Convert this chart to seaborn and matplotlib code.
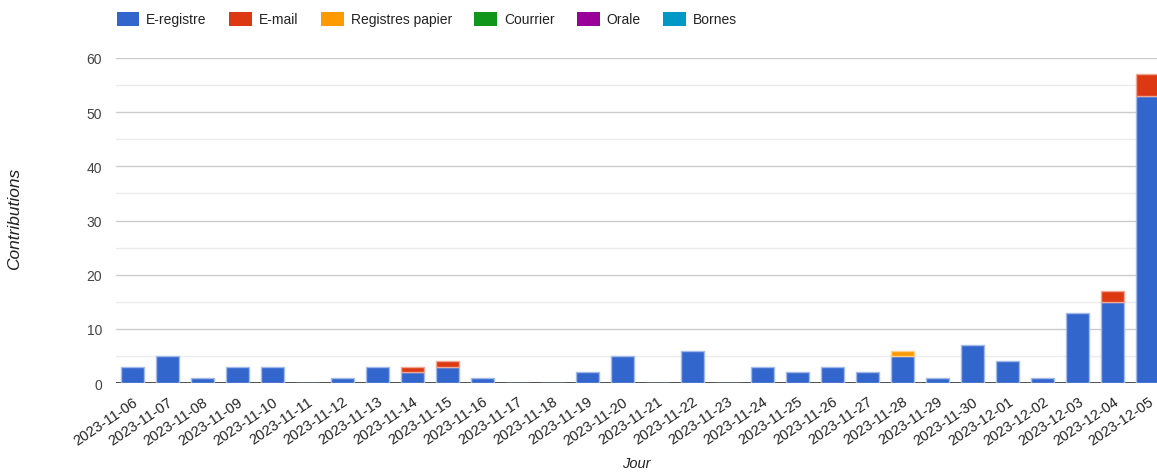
import numpy as np
import pandas as pd
import matplotlib
matplotlib.use("Agg")
import matplotlib.pyplot as plt
from matplotlib.patches import Patch
from matplotlib.ticker import MultipleLocator
from matplotlib.colors import to_rgb
import seaborn as sns

# Daily contributions by channel
days = ["2023-11-06", "2023-11-07", "2023-11-08", "2023-11-09", "2023-11-10",
        "2023-11-11", "2023-11-12", "2023-11-13", "2023-11-14", "2023-11-15",
        "2023-11-16", "2023-11-17", "2023-11-18", "2023-11-19", "2023-11-20",
        "2023-11-21", "2023-11-22", "2023-11-23", "2023-11-24", "2023-11-25",
        "2023-11-26", "2023-11-27", "2023-11-28", "2023-11-29", "2023-11-30",
        "2023-12-01", "2023-12-02", "2023-12-03", "2023-12-04", "2023-12-05"]
e_registre = [3, 5, 1, 3, 3, 0, 1, 3, 2, 3, 1, 0, 0, 2, 5,
              0, 6, 0, 3, 2, 3, 2, 5, 1, 7, 4, 1, 13, 15, 53]
e_mail = [0, 0, 0, 0, 0, 0, 0, 0, 1, 1, 0, 0, 0, 0, 0,
          0, 0, 0, 0, 0, 0, 0, 0, 0, 0, 0, 0, 0, 2, 4]
registres_papier = [0, 0, 0, 0, 0, 0, 0, 0, 0, 0, 0, 0, 0, 0, 0,
                    0, 0, 0, 0, 0, 0, 0, 1, 0, 0, 0, 0, 0, 0, 0]
courrier = [0] * 30
orale = [0] * 30
bornes = [0] * 30

series_names = ["E-registre", "E-mail", "Registres papier", "Courrier", "Orale", "Bornes"]
series_values = [e_registre, e_mail, registres_papier, courrier, orale, bornes]
colors = ["#3366cc", "#dc3912", "#ff9900", "#109618", "#990099", "#0099c6"]


def tint(c, amount=0.55):
    r, g, b = to_rgb(c)
    return (r + (1 - r) * amount, g + (1 - g) * amount, b + (1 - b) * amount)


sns.set_style("white")
plt.rcParams["font.family"] = ["Liberation Sans", "DejaVu Sans"]

fig = plt.figure(figsize=(11.57, 4.77), dpi=100)
ax = fig.add_axes([116 / 1157, 1 - 384 / 477, 1 - 116 / 1157, (384 - 59) / 477])

bottom = np.zeros(len(days))
for i, (name, vals, col) in enumerate(zip(series_names, series_values, colors)):
    vals = np.asarray(vals, dtype=float)
    if vals.sum() > 0:
        # upper stack segments are only drawn where the channel has entries
        shown = vals if i == 0 else np.where(vals > 0, vals, np.nan)
        df = pd.DataFrame({"day": days, "n": shown, "base": bottom})
        df = df.dropna()
        sns.barplot(data=df, x="day", y="n", order=days, bottom=df["base"].values,
                    color=col, width=0.66, saturation=1, edgecolor=tint(col),
                    linewidth=1.0, ax=ax, zorder=3)
    bottom += vals

ax.set_ylim(0, 60)
ax.set_xlim(-0.46, len(days) - 1 + 0.26)
ax.yaxis.set_major_locator(MultipleLocator(10))
ax.yaxis.set_minor_locator(MultipleLocator(5))
ax.grid(axis="y", which="major", color="#cccccc", linewidth=1, zorder=0)
ax.grid(axis="y", which="minor", color="#ebebeb", linewidth=1, zorder=0)
ax.set_axisbelow(True)
ax.axhline(0, color="#333333", linewidth=1.2, zorder=2.5)
for s in ax.spines.values():
    s.set_visible(False)

ax.tick_params(axis="y", length=0, labelsize=10, labelcolor="#444444", pad=10)
ax.tick_params(axis="x", length=0, labelsize=10.5, labelcolor="#222222", pad=8)
ax.set_xticks(range(len(days)))
ax.set_xticklabels(days, rotation=34, ha="right", rotation_mode="anchor")

ax.set_xlabel("Jour", fontsize=10.5, style="italic", color="#222222", labelpad=6)
ax.set_ylabel("")
fig.text(15 / 1157, 1 - 219 / 477, "Contributions", rotation=90, fontsize=12.5,
         style="italic", color="#222222", ha="center", va="center")

handles = [Patch(facecolor=c, edgecolor="none") for c in colors]
fig.legend(handles, series_names, loc="upper left", ncol=6,
           bbox_to_anchor=(104 / 1157, 1.0), frameon=False, fontsize=10,
           handlelength=1.65, handleheight=1.2, handletextpad=0.5,
           columnspacing=1.6, labelcolor="#222222")

fig.savefig("out.png", dpi=100)
